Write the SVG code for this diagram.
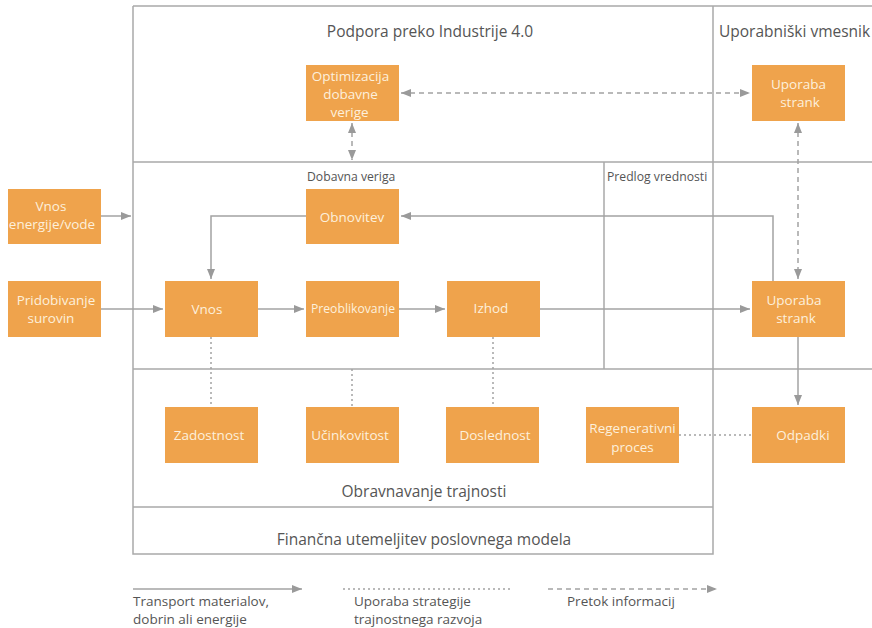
<svg xmlns="http://www.w3.org/2000/svg" width="872" height="628" viewBox="0 0 872 628">
<defs>
<marker id="ah" viewBox="0 0 10 8" refX="10" refY="4" markerWidth="10" markerHeight="8" markerUnits="userSpaceOnUse" orient="auto-start-reverse">
<path d="M0,0 L10,4 L0,8 z" fill="#9a9a9a"/>
</marker>
<style>
.frame{fill:none;stroke:#a9a9a9;stroke-width:1.5}
.node rect{fill:#efa34c}
.node text{fill:#fdf0dc;font-family:"Open Sans","Liberation Sans",sans-serif;font-size:13.5px;text-anchor:middle}
.c{fill:none;stroke:#a3a3a3;stroke-width:1.5}
.solid{marker-end:url(#ah)}
.dash{stroke-dasharray:5 4}
.dot{stroke-dasharray:2 3}
.both{marker-start:url(#ah);marker-end:url(#ah)}
.lbl{fill:#555;font-family:"Open Sans","Liberation Sans",sans-serif}
.big{font-size:15.5px}
.small{font-size:12.2px}
.leg{font-size:13.5px;fill:#555;font-family:"Open Sans","Liberation Sans",sans-serif}
</style>
</defs>
<rect width="872" height="628" fill="#fff"/>
<g id="frames">
<path class="frame" d="M133,6 H872 M133,6 V554 H713 V6 M133,162 H872 M133,369 H872 M133,507 H713 M604,162 V369"/>
</g>
<g id="labels">
<text class="lbl big" x="430" y="37" text-anchor="middle">Podpora preko Industrije 4.0</text>
<text class="lbl big" x="719" y="37">Uporabniški vmesnik</text>
<text class="lbl small" x="307" y="181">Dobavna veriga</text>
<text class="lbl small" x="607" y="181">Predlog vrednosti</text>
<text class="lbl big" x="424" y="497" text-anchor="middle">Obravnavanje trajnosti</text>
<text class="lbl big" x="424" y="545" text-anchor="middle">Finančna utemeljitev poslovnega modela</text>
</g>
<g id="connectors">
<path class="c solid" d="M101,216 H131"/>
<path class="c solid" d="M101,309 H163"/>
<path class="c solid" d="M258,309 H304"/>
<path class="c solid" d="M399,309 H445"/>
<path class="c solid" d="M540,309 H750"/>
<path class="c solid" d="M773,281 V216 H401"/>
<path class="c solid" d="M306,216 H211 V279"/>
<path class="c solid" d="M798,337 V405"/>
<path class="c dash both" d="M401,93 H750"/>
<path class="c dash both" d="M352,123 V160"/>
<path class="c dash both" d="M798,123 V279"/>
<path class="c dot" d="M211,337 V407"/>
<path class="c dot" d="M352,369 V407"/>
<path class="c dot" d="M493,337 V407"/>
<path class="c dot" d="M679,435 H752"/>
</g>
<g id="n-opt" class="node"><rect x="306" y="65" width="93" height="56"/><text x="350.5" y="81">Optimizacija</text><text x="350.5" y="99">dobavne</text><text x="349.5" y="117">verige</text></g>
<g id="n-up1" class="node"><rect x="752" y="65" width="93" height="56"/><text x="798.5" y="89">Uporaba</text><text x="800" y="107">strank</text></g>
<g id="n-ene" class="node"><rect x="8" y="189" width="93" height="55"/><text x="51" y="211">Vnos</text><text x="52" y="229">energije/vode</text></g>
<g id="n-obn" class="node"><rect x="306" y="189" width="93" height="55"/><text x="352" y="222">Obnovitev</text></g>
<g id="n-pri" class="node"><rect x="8" y="281" width="93" height="56"/><text x="56" y="305">Pridobivanje</text><text x="51" y="323">surovin</text></g>
<g id="n-vnos" class="node"><rect x="165" y="281" width="93" height="56"/><text x="207" y="314">Vnos</text></g>
<g id="n-pre" class="node"><rect x="306" y="281" width="93" height="56"/><text x="353" y="313" style="font-size:12.2px">Preoblikovanje</text></g>
<g id="n-izh" class="node"><rect x="447" y="281" width="93" height="56"/><text x="491" y="313">Izhod</text></g>
<g id="n-up2" class="node"><rect x="752" y="281" width="93" height="56"/><text x="794" y="305">Uporaba</text><text x="796" y="323">strank</text></g>
<g id="n-zad" class="node"><rect x="165" y="407" width="93" height="56"/><text x="209" y="440">Zadostnost</text></g>
<g id="n-uci" class="node"><rect x="306" y="407" width="93" height="56"/><text x="350" y="440">Učinkovitost</text></g>
<g id="n-dos" class="node"><rect x="446" y="407" width="93" height="56"/><text x="495" y="440">Doslednost</text></g>
<g id="n-reg" class="node"><rect x="586" y="407" width="93" height="56"/><text x="632.5" y="433">Regenerativni</text><text x="632.5" y="452">proces</text></g>
<g id="n-odp" class="node"><rect x="752" y="407" width="93" height="56"/><text x="803" y="440">Odpadki</text></g>
<g id="legend">
<path class="c solid" d="M133,589 H302"/>
<path class="c dot" d="M343,589 H513"/>
<path class="c dash solid" d="M548,589 H717"/>
<text class="leg" x="133" y="606">Transport materialov,</text>
<text class="leg" x="133" y="624">dobrin ali energije</text>
<text class="leg" x="354" y="606">Uporaba strategije</text>
<text class="leg" x="354" y="624">trajnostnega razvoja</text>
<text class="leg" x="567" y="606">Pretok informacij</text>
</g>
</svg>
